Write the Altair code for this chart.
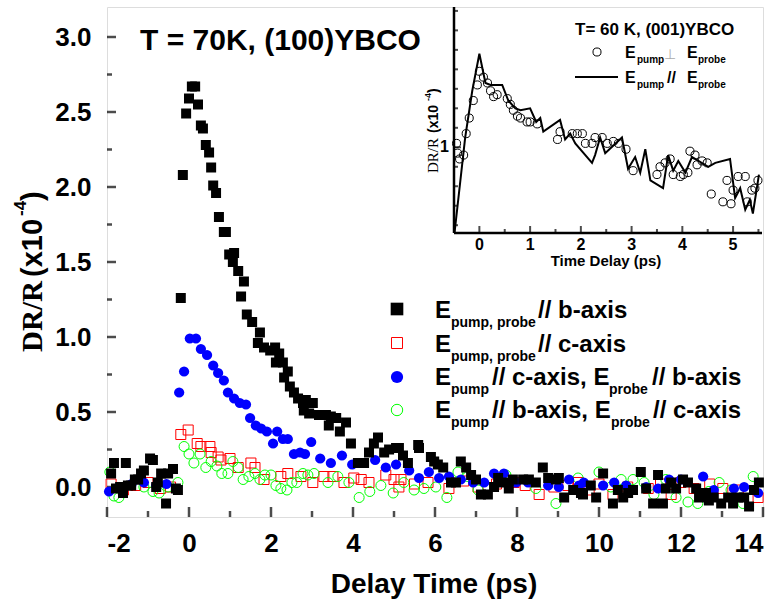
import altair as alt
import pandas as pd

# ---------------- main panel data (Delay time ps, dR/R x1e-4) ----------------
black_x = [-1.90, -1.83, -1.78, -1.68, -1.61, -1.54, -1.49, -1.41, -1.32, -1.24, -1.17, -1.10, -0.95, -0.88,
           -0.80, -0.76, -0.68, -0.56, -0.51, -0.39, -0.32, -0.27,
           -0.20, -0.15, -0.07, 0.00, 0.07, 0.15, 0.22, 0.29, 0.34, 0.41, 0.49, 0.54, 0.59, 0.66, 0.73, 0.85,
           0.90, 0.98, 1.07, 1.10, 1.20, 1.27, 1.34, 1.41, 1.54, 1.68, 1.73, 1.83, 1.98, 2.10, 2.12, 2.20,
           2.29, 2.32, 2.41, 2.46, 2.56, 2.66, 2.78, 2.80, 2.85, 2.93, 3.02, 3.17, 3.34, 3.41, 3.46, 3.59,
           3.68, 3.83, 3.95, 4.12, 4.27, 4.39, 4.51, 4.61, 4.76, 4.88, 5.05, 5.12, 5.22, 5.34, 5.59, 5.61,
           5.90, 5.98, 6.07, 6.20, 6.39, 6.51, 6.63, 6.76, 6.88, 7.00, 7.12, 7.29, 7.44, 7.54, 7.66, 7.80,
           7.90, 8.15, 8.29, 8.46, 8.63, 8.76, 8.95, 9.02, 9.15, 9.37, 9.56, 9.61, 9.80, 9.93, 10.10, 10.34,
           10.46, 10.59, 10.71, 10.83, 11.02, 11.15, 11.32, 11.44, 11.56, 11.63, 11.76, 11.88, 12.05, 12.17,
           12.37, 12.44, 12.61, 12.68, 12.80, 12.98, 13.15, 13.27, 13.39, 13.54, 13.66, 13.78, 13.90]
black_y = [0.09, 0.16, -0.01, 0.00, -0.04, 0.16, 0.01, 0.01, 0.05, 0.05, 0.09, 0.11, 0.19, 0.18,
           0.00, 0.03, 0.09, -0.11, 0.09, 0.12, -0.01, -0.02,
           1.26, 2.08, 2.49, 2.59, 2.67, 2.67, 2.55, 2.41, 2.39, 2.28, 2.23, 2.13, 2.01, 1.96, 1.80, 1.70,
           1.70, 1.55, 1.50, 1.56, 1.44, 1.27, 1.37, 1.15, 1.10, 0.96, 1.03, 0.93, 0.91, 0.93, 0.83, 0.89,
           0.83, 0.73, 0.77, 0.67, 0.63, 0.59, 0.56, 0.51, 0.58, 0.49, 0.56, 0.48, 0.48, 0.41, 0.47, 0.46,
           0.37, 0.43, 0.29, 0.16, 0.16, 0.23, 0.29, 0.33, 0.23, 0.25, 0.26, 0.26, 0.21, 0.16, 0.28, 0.26,
           0.20, 0.17, 0.15, 0.13, 0.03, 0.03, 0.17, 0.13, 0.08, 0.05, -0.05, -0.05, 0.00, 0.06, 0.03, -0.01,
           0.05, 0.05, 0.05, 0.03, 0.13, 0.06, 0.05, 0.06, -0.07, -0.02, -0.04, -0.05, 0.01, -0.07, 0.09, -0.11,
           -0.02, -0.07, -0.04, -0.02, 0.10, -0.01, -0.11, 0.08, -0.11, -0.01, 0.03, -0.01, 0.05, 0.03,
           -0.01, -0.07, -0.04, -0.09, -0.07, -0.11, -0.07, -0.11, -0.07, -0.07, -0.13, -0.02, 0.03]

red_x = [-1.90, -1.60, -1.30, -1.00, -0.70, -0.45, -0.20, -0.02, 0.20, 0.29, 0.51, 0.54, 0.71, 0.78, 1.00,
         1.20, 1.51, 1.61, 1.83, 2.24, 2.41, 2.73, 3.02, 3.29, 3.51, 3.78, 4.02, 4.20, 4.39, 4.80, 5.00,
         5.12, 5.17, 5.50, 5.83, 6.34, 6.70, 7.05, 7.50, 7.93, 8.20, 8.54, 8.90, 9.24, 9.50, 9.76, 10.00,
         10.34, 10.70, 11.20, 11.50, 11.76, 12.00, 12.32, 12.70, 13.02, 13.40, 13.88]
red_y = [0.02, -0.02, 0.01, 0.03, -0.01, 0.00, 0.35, 0.38, 0.29, 0.27, 0.27, 0.23, 0.20, 0.18, 0.19,
         0.13, 0.16, 0.13, 0.05, 0.07, 0.09, 0.07, 0.03, 0.07, 0.07, 0.03, 0.06, 0.05, 0.03, 0.08, 0.05,
         0.00, 0.05, 0.02, 0.03, -0.01, 0.04, 0.00, 0.02, 0.03, 0.01, -0.05, 0.00, 0.01, 0.03, -0.02, 0.02,
         -0.05, 0.00, -0.01, 0.02, -0.05, 0.03, -0.01, 0.02, -0.01, -0.02, -0.07]

blue_x = [-1.95, -1.70, -1.40, -1.10, -0.80, -0.55, -0.24, -0.12, 0.02, 0.17, 0.29, 0.44, 0.59, 0.71, 0.85,
          0.95, 1.10, 1.24, 1.39, 1.49, 1.63, 1.76, 1.90, 2.05, 2.15, 2.29, 2.41, 2.56, 2.71, 2.83, 2.98,
          3.20, 3.46, 3.73, 3.98, 4.24, 4.54, 4.80, 5.05, 5.37, 5.61, 5.85, 6.10, 6.34, 6.63, 6.93, 7.20,
          7.44, 7.68, 7.98, 8.27, 8.76, 9.02, 9.27, 9.51, 9.63, 10.10, 10.37, 10.66, 11.15, 11.44, 11.71,
          12.00, 12.54, 12.80, 13.29, 13.54, 13.88]
blue_y = [-0.03, 0.00, 0.02, 0.03, 0.01, 0.02, 0.63, 0.77, 0.99, 0.99, 0.92, 0.88, 0.81, 0.76, 0.71,
          0.63, 0.59, 0.56, 0.55, 0.46, 0.41, 0.39, 0.37, 0.29, 0.37, 0.32, 0.32, 0.22, 0.23, 0.22, 0.30,
          0.19, 0.16, 0.21, 0.15, 0.16, 0.18, 0.13, 0.15, 0.11, 0.06, 0.10, 0.06, 0.07, 0.05, 0.03, 0.03,
          0.09, 0.09, 0.03, 0.03, 0.01, 0.00, 0.05, 0.01, 0.03, 0.01, 0.03, 0.01, 0.00, -0.01, 0.05,
          0.05, 0.07, -0.02, -0.01, 0.00, -0.04]

green_x = [-1.93, -1.83, -1.71, -1.10, -0.88, -0.73, -0.51, -0.27, -0.12, 0.00, 0.12, 0.27, 0.41, 0.54,
           0.68, 0.80, 0.95, 1.07, 1.20, 1.32, 1.46, 1.61, 1.73, 1.85, 2.00, 2.12, 2.24, 2.39, 2.51, 2.63,
           2.78, 2.90, 3.05, 3.39, 3.63, 3.90, 4.15, 4.41, 4.68, 4.98, 5.24, 5.49, 5.73, 6.02, 6.29, 6.56,
           6.80, 7.05, 7.73, 8.46, 8.95, 9.49, 10.00, 10.29, 10.54, 10.83, 11.10, 11.34, 11.63, 11.88,
           12.17, 12.41, 12.68, 12.93, 13.22, 13.51, 13.76]
green_y = [0.10, -0.06, -0.07, 0.00, -0.03, -0.04, 0.00, 0.03, 0.27, 0.22, 0.16, 0.22, 0.13, 0.17,
           0.14, 0.09, 0.09, 0.17, 0.13, 0.05, 0.07, 0.09, 0.05, 0.08, 0.08, 0.01, -0.01, -0.02, 0.03, 0.03,
           0.09, 0.08, 0.09, 0.03, 0.07, 0.03, -0.07, -0.03, 0.01, -0.04, 0.03, -0.02, -0.01, 0.00, -0.07, 0.10,
           0.07, -0.02, 0.08, -0.01, -0.11, 0.06, 0.10, 0.00, 0.05, 0.05, 0.03, -0.05, 0.05, -0.07,
           -0.10, -0.11, -0.03, 0.03, -0.02, -0.11, 0.07]

main_x_major = [-2, 0, 2, 4, 6, 8, 10, 12, 14]
main_x_minor = [-1, 1, 3, 5, 7, 9, 11, 13]
main_y_major = [0.0, 0.5, 1.0, 1.5, 2.0, 2.5, 3.0]
main_y_minor = [0.25, 0.75, 1.25, 1.75, 2.25, 2.75]

# ---------------- inset data (Time delay ps, dR/R x1e-4) ----------------
ins_c_x = [-0.45, -0.43, -0.39, -0.31, -0.26, -0.20, -0.12, -0.04, 0.00, 0.08, 0.16, 0.22, 0.28, 0.35,
           0.55, 0.61, 0.67, 0.75, 0.81, 0.94, 1.00, 1.14, 1.54, 1.59, 1.83, 1.93, 2.03, 2.09, 2.22, 2.28,
           2.42, 2.52, 2.64, 2.74, 2.89, 3.03, 3.50, 3.56, 3.66, 3.76, 3.82, 3.96, 4.02, 4.11, 4.15, 4.25,
           4.29, 4.39, 4.49, 4.57, 4.80, 4.88, 4.96, 5.00, 5.10, 5.24, 5.28, 5.37, 5.43, 5.49]
ins_c_y = [1.02, 0.97, 0.94, 0.96, 1.07, 1.15, 1.24, 1.32, 1.39, 1.36, 1.33, 1.29, 1.26, 1.27,
           1.25, 1.22, 1.19, 1.16, 1.15, 1.13, 1.13, 1.12, 1.04, 1.08, 1.07, 1.07, 1.07, 1.02, 1.02, 1.05,
           1.05, 1.02, 1.03, 1.02, 0.99, 0.88, 0.86, 0.90, 0.92, 0.94, 0.86, 0.85, 0.86, 0.87, 0.98, 0.96,
           0.91, 0.93, 0.92, 0.76, 0.72, 0.83, 0.71, 0.78, 0.85, 0.85, 0.72, 0.78, 0.79, 0.83]
ins_l_x = [-0.49, -0.28, -0.14, 0.00, 0.12, 0.22, 0.31, 0.45, 0.57, 0.71, 0.81, 1.00, 1.12, 1.20, 1.26,
           1.59, 1.69, 1.79, 1.89, 2.22, 2.28, 2.38, 2.48, 2.81, 2.93, 3.07, 3.17, 3.27, 3.37, 3.62, 3.72,
           3.82, 3.92, 4.06, 4.19, 4.51, 4.65, 4.94, 5.04, 5.14, 5.24, 5.33, 5.39, 5.51]
ins_l_y = [0.56, 1.05, 1.29, 1.48, 1.33, 1.32, 1.32, 1.32, 1.24, 1.20, 1.19, 1.20, 1.13, 1.15, 1.08,
           1.14, 1.04, 1.07, 1.02, 0.92, 0.96, 1.05, 0.97, 1.05, 0.89, 0.95, 0.87, 0.99, 0.83, 0.79, 0.96,
           0.88, 0.93, 0.87, 0.95, 0.90, 0.92, 0.94, 0.74, 0.79, 0.68, 0.73, 0.66, 0.86]
ins_x_major = [0, 1, 2, 3, 4, 5]
ins_x_minor = [-0.5, 0.5, 1.5, 2.5, 3.5, 4.5, 5.5]
ins_y_major = [1.0]
ins_y_minor = [0.6, 0.7, 0.8, 0.9, 1.1, 1.2, 1.3, 1.4, 1.5, 1.6, 1.7]
ins_x_dom = [-0.5, 5.57]
ins_y_dom = [0.56, 1.72]

SANS = "Liberation Sans"
SERIF = "Liberation Serif"
W, H = 656, 510
PL, PT = 107, 7

# ---------------- main panel ----------------
MX = alt.X("x:Q", scale=alt.Scale(domain=[-2, 14], nice=False, zero=False),
           axis=alt.Axis(orient="bottom", values=main_x_major, ticks=False, tickSize=0, domain=False,
                         grid=False, title=None, labelPadding=13, labelFont=SANS, labelFontSize=26,
                         labelFontWeight="bold", labelColor="black", labelExpr="'' + datum.value"))
MY = alt.Y("y:Q", scale=alt.Scale(domain=[-0.2, 3.2], nice=False, zero=False),
           axis=alt.Axis(orient="left", values=main_y_major, ticks=False, tickSize=0, domain=False,
                         grid=False, title=None, labelPadding=16, labelFont=SANS, labelFontSize=26,
                         labelFontWeight="bold", labelColor="black", format=".1f"))

df_black = pd.DataFrame({"x": black_x, "y": black_y})
df_red = pd.DataFrame({"x": red_x, "y": red_y})
df_blue = pd.DataFrame({"x": blue_x, "y": blue_y})
df_green = pd.DataFrame({"x": green_x, "y": green_y})

red_l = alt.Chart(df_red).mark_point(shape="square", filled=False, color="#ff0000", size=100,
                                     strokeWidth=1, opacity=1).encode(x=MX, y=MY)
blue_l = alt.Chart(df_blue).mark_point(shape="circle", filled=True, color="#0000ff", size=105,
                                       opacity=1).encode(x=MX, y=MY)
green_l = alt.Chart(df_green).mark_point(shape="circle", filled=False, color="#00ff00", size=100,
                                         strokeWidth=1, opacity=1).encode(x=MX, y=MY)
black_l = alt.Chart(df_black).mark_point(shape="square", filled=True, color="black", size=100,
                                         opacity=1).encode(x=MX, y=MY)

tx_major = alt.Chart(pd.DataFrame({"x": main_x_major, "y": [-0.2] * len(main_x_major)})).mark_tick(
    orient="vertical", size=10, thickness=2.5, yOffset=-5, color="black").encode(x=MX, y=MY)
tx_minor = alt.Chart(pd.DataFrame({"x": main_x_minor, "y": [-0.2] * len(main_x_minor)})).mark_tick(
    orient="vertical", size=6, thickness=2.5, yOffset=-3, color="black").encode(x=MX, y=MY)
ty_major = alt.Chart(pd.DataFrame({"x": [-2] * len(main_y_major), "y": main_y_major})).mark_tick(
    orient="horizontal", size=9, thickness=2.5, xOffset=4.5, color="black").encode(x=MX, y=MY)
ty_minor = alt.Chart(pd.DataFrame({"x": [-2] * len(main_y_minor), "y": main_y_minor})).mark_tick(
    orient="horizontal", size=5, thickness=2.5, xOffset=2.5, color="black").encode(x=MX, y=MY)

main = alt.layer(tx_major, tx_minor, ty_major, ty_minor, red_l, green_l, blue_l, black_l)

# ---------------- inset (own scales, drawn into the upper-right corner) ----------------
IX = alt.X("x:Q", scale=alt.Scale(domain=ins_x_dom, range=[347, 655], nice=False, zero=False), axis=None)
IY = alt.Y("y:Q", scale=alt.Scale(domain=ins_y_dom, range=[226, 0], nice=False, zero=False), axis=None)

ins_circ = alt.Chart(pd.DataFrame({"x": ins_c_x, "y": ins_c_y})).mark_point(
    shape="circle", filled=False, color="black", size=65, strokeWidth=1, opacity=1).encode(x=IX, y=IY)
ins_line = alt.Chart(pd.DataFrame({"x": ins_l_x, "y": ins_l_y})).mark_line(
    color="black", strokeWidth=2).encode(x=IX, y=IY)
ins_left = alt.Chart(pd.DataFrame({"x": [ins_x_dom[0]], "y": [ins_y_dom[0]], "y2": [ins_y_dom[1]]})).mark_rule(
    color="black", strokeWidth=2.5).encode(x=IX, y=IY, y2="y2:Q")
ins_bottom = alt.Chart(pd.DataFrame({"x": [ins_x_dom[0]], "x2": [ins_x_dom[1]], "y": [ins_y_dom[0]]})).mark_rule(
    color="black", strokeWidth=2.5).encode(x=IX, x2="x2:Q", y=IY)
itx_major = alt.Chart(pd.DataFrame({"x": ins_x_major, "y": [ins_y_dom[0]] * len(ins_x_major)})).mark_tick(
    orient="vertical", size=7, thickness=2, yOffset=-3.5, color="black").encode(x=IX, y=IY)
itx_minor = alt.Chart(pd.DataFrame({"x": ins_x_minor, "y": [ins_y_dom[0]] * len(ins_x_minor)})).mark_tick(
    orient="vertical", size=4, thickness=2, yOffset=-2, color="black").encode(x=IX, y=IY)
ity_major = alt.Chart(pd.DataFrame({"x": [ins_x_dom[0]] * len(ins_y_major), "y": ins_y_major})).mark_tick(
    orient="horizontal", size=7, thickness=2, xOffset=3.5, color="black").encode(x=IX, y=IY)
ity_minor = alt.Chart(pd.DataFrame({"x": [ins_x_dom[0]] * len(ins_y_minor), "y": ins_y_minor})).mark_tick(
    orient="horizontal", size=4, thickness=2, xOffset=2, color="black").encode(x=IX, y=IY)
ins_xlab = alt.Chart(pd.DataFrame({"x": ins_x_major, "t": [str(v) for v in ins_x_major]})).mark_text(
    font=SANS, fontSize=16, fontWeight="bold", align="center", baseline="alphabetic", color="black").encode(
    x=IX, y=alt.value(250 - PT), text="t:N")
ins_ylab = alt.Chart(pd.DataFrame({"y": ins_y_major, "t": ["1"]})).mark_text(
    font=SANS, fontSize=16, fontWeight="bold", align="right", baseline="middle", color="black").encode(
    x=alt.value(449 - PL), y=IY, text="t:N")

inset = alt.layer(ins_left, ins_bottom, itx_major, itx_minor, ity_major, ity_minor,
                  ins_line, ins_circ, ins_xlab, ins_ylab)

# ---------------- texts and legend (canvas pixel positions) ----------------
def T(s, cx, cy, size, font=SANS, weight="bold", align="left", angle=0, color="black"):
    return alt.Chart(pd.DataFrame({"t": [s]})).mark_text(
        font=font, fontSize=size, fontWeight=weight, align=align, baseline="alphabetic",
        angle=angle, color=color).encode(x=alt.value(cx - PL), y=alt.value(cy - PT), text="t:N")

def S(shape, cx, cy, size, color, filled, sw=1):
    return alt.Chart(pd.DataFrame({"t": [0]})).mark_point(
        shape=shape, size=size, color=color, filled=filled, strokeWidth=sw, opacity=1).encode(
        x=alt.value(cx - PL), y=alt.value(cy - PT))

texts = [
    T("T = 70K, (100)YBCO", 140, 50, 30),
    T("Delay Time (ps)", 434, 593, 28, align="center"),
    # main y title (rotated)
    T("DR/R", 42, 352, 29, font=SERIF, weight="bold", angle=270),
    T("(x10", 42, 277, 29, angle=270),
    T("-4", 26, 216, 17, angle=270),
    T(")", 42, 201, 29, angle=270),
    # legend rows
    T("E", 435, 318, 24), T("pump, probe", 451, 327, 14), T("// b-axis", 538, 318, 24),
    T("E", 435, 352, 24), T("pump, probe", 451, 361, 14), T("// c-axis", 538, 352, 24),
    T("E", 435, 385, 24), T("pump", 451, 394, 14), T("// c-axis, E", 492, 385, 24),
    T("probe", 609, 394, 14), T("// b-axis", 652, 385, 24),
    T("E", 435, 418, 24), T("pump", 451, 427, 14), T("// b-axis, E", 492, 418, 24),
    T("probe", 611, 427, 14), T("// c-axis", 653, 418, 24),
    # inset texts
    T("T= 60 K, (001)YBCO", 575, 35, 17),
    T("Time Delay (ps)", 606, 266, 15, align="center"),
    T("DR/R", 438, 173, 15, font=SERIF, weight="normal", angle=270),
    T("(x10", 438, 133, 14, angle=270),
    T("-4", 431, 101, 9, angle=270),
    T(")", 438, 93, 14, angle=270),
    T("E", 625, 58, 16), T("pump", 637, 63, 10), T("⊥", 664, 59, 14, font="DejaVu Sans",
                                                      weight="normal", color="#aaaaaa"),
    T("E", 687, 58, 16), T("probe", 698, 63, 10),
    T("E", 625, 83, 16), T("pump", 637, 88, 10), T("//", 667, 83, 16),
    T("E", 687, 83, 16), T("probe", 698, 88, 10),
]
symbols = [
    S("square", 397, 309, 160, "black", True),
    S("square", 397, 343, 121, "#ff0000", False),
    S("circle", 397, 377, 150, "#0000ff", True),
    S("circle", 397, 410, 130, "#00ff00", False),
    S("circle", 597, 52, 65, "black", False),
]
leg_line = alt.Chart(pd.DataFrame({"t": [0]})).mark_rule(color="black", strokeWidth=2).encode(
    x=alt.value(575 - PL), x2=alt.value(618 - PL), y=alt.value(77 - PT))

chart = alt.layer(main, inset, *symbols, leg_line, *texts).resolve_scale(
    x="independent", y="independent"
).properties(
    width=W, height=H,
    autosize=alt.AutoSizeParams(type="none"),
    padding={"left": PL, "top": PT, "right": 779 - PL - W, "bottom": 601 - PT - H},
).configure_view(stroke="black", strokeWidth=3).configure(background="white")

chart.save("out.html", embed_options={"renderer": "svg", "actions": False})
